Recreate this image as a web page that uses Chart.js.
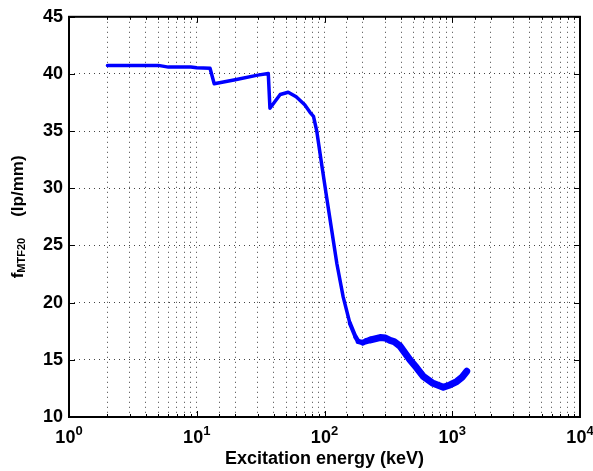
<!DOCTYPE html>
<html><head><meta charset="utf-8">
<script src="https://cdn.jsdelivr.net/npm/chart.js@4/dist/chart.umd.min.js"></script>
<style>html,body{margin:0;padding:0;background:#fff}canvas{display:block}</style>
</head><body>
<canvas id="c" width="593" height="471"></canvas>
<script>
// Data
const energyKeV = [2,5,6,9,10,12.7,13.7,20,30,36.3,37.4,45,52,60,70,77,82,87,95,104,114,125,140,158,175,184,200,214,230,272,300,326,350,390,466,526,593,707,851,959,1084,1200,1298];
const fMTF20 = [40.75,40.75,40.6,40.6,40.55,40.5,39.15,39.5,39.9,40.05,37.0,38.2,38.4,38.0,37.3,36.65,36.3,35.0,32.1,29.2,26.3,23.4,20.5,18.2,17.0,16.6,16.5,16.65,16.75,16.95,16.9,16.7,16.6,16.2,15.0,14.3,13.55,12.95,12.6,12.8,13.1,13.5,14.0];
const xDecades = [1,10,100,1000,10000];
const xDecadeBase = ['10','10','10','10','10'];
const xDecadeExp = ['0','1','2','3','4'];
const xTitle = 'Excitation energy (keV)';
const yTitleMain = 'f';
const yTitleSub = 'MTF20';
const yTitleRest = '(lp/mm)';

const FONT = '"Liberation Sans", Arial, Helvetica, sans-serif';

const decor = {
  id: 'decor',
  afterDraw(chart) {
    const ctx = chart.ctx, a = chart.chartArea;
    const xs = chart.scales.x, ys = chart.scales.y;
    ctx.save();
    ctx.strokeStyle = '#000';
    // inward tick marks
    ctx.lineWidth = 1;
    ctx.beginPath();
    xs.ticks.forEach(t => {
      const px = Math.round(xs.getPixelForValue(t.value)) + 0.5;
      const major = xDecades.includes(t.value);
      const L = major ? 6 : 3;
      ctx.moveTo(px, a.bottom); ctx.lineTo(px, a.bottom - L);
      ctx.moveTo(px, a.top); ctx.lineTo(px, a.top + L);
    });
    ys.ticks.forEach(t => {
      const py = Math.round(ys.getPixelForValue(t.value)) + 0.5;
      ctx.moveTo(a.left, py); ctx.lineTo(a.left + 6, py);
      ctx.moveTo(a.right, py); ctx.lineTo(a.right - 6, py);
    });
    ctx.stroke();
    // box
    ctx.lineWidth = 2;
    ctx.strokeRect(a.left, a.top, a.right - a.left, a.bottom - a.top);
    // x tick labels 10^n
    ctx.fillStyle = '#000';
    ctx.textBaseline = 'alphabetic';
    xDecades.forEach((v, i) => {
      const px = xs.getPixelForValue(v);
      ctx.font = 'bold 18px ' + FONT;
      const wb = ctx.measureText(xDecadeBase[i]).width;
      ctx.font = 'bold 13px ' + FONT;
      const we = ctx.measureText(xDecadeExp[i]).width;
      const x0 = px - (wb + we) / 2;
      ctx.font = 'bold 18px ' + FONT;
      ctx.textAlign = 'left';
      ctx.fillText(xDecadeBase[i], x0, 443);
      ctx.font = 'bold 13px ' + FONT;
      ctx.fillText(xDecadeExp[i], x0 + wb, 435);
    });
    // x title
    ctx.font = 'bold 18px ' + FONT;
    ctx.textAlign = 'center';
    ctx.fillText(xTitle, (a.left + a.right) / 2, 464);
    // y title (rotated)
    ctx.translate(23, (a.top + a.bottom) / 2);
    ctx.rotate(-Math.PI / 2);
    ctx.textAlign = 'left';
    const gap = 21;
    ctx.font = 'bold 17px ' + FONT;
    const w1 = ctx.measureText(yTitleMain).width;
    const w3 = ctx.measureText(yTitleRest).width;
    ctx.font = 'bold 11px ' + FONT;
    const w2 = ctx.measureText(yTitleSub).width;
    let x = -(w1 + w2 + gap + w3) / 2;
    ctx.font = 'bold 17px ' + FONT;
    ctx.fillText(yTitleMain, x, 0); x += w1;
    ctx.font = 'bold 11px ' + FONT;
    ctx.fillText(yTitleSub, x, 2); x += w2 + gap;
    ctx.font = 'bold 17px ' + FONT;
    ctx.fillText(yTitleRest, x, 0);
    ctx.restore();
  }
};

new Chart(document.getElementById('c'), {
  type: 'line',
  data: {
    datasets: [{
      data: energyKeV.map((e, i) => ({x: e, y: fMTF20[i]})),
      borderColor: '#0000ff',
      borderWidth: 3,
      pointRadius: 0,
      fill: false,
      tension: 0,
      borderCapStyle: 'round',
      borderJoinStyle: 'round',
      segment: {
        borderWidth: c => {
          const lx = Math.log10(c.p1.parsed.x);
          const f = Math.max(0, Math.min(1, (lx - 2.2) / 0.2));
          return 3.5 + f * 3.5;
        }
      }
    }]
  },
  options: {
    responsive: false,
    animation: false,
    events: [],
    layout: {padding: {top: 15, right: 13, left: 0, bottom: 0}},
    plugins: {legend: {display: false}, tooltip: {enabled: false}},
    scales: {
      x: {
        type: 'logarithmic', min: 1, max: 10000,
        afterFit: s => { s.height = 54; },
        ticks: {display: false, autoSkip: false},
        grid: {color: '#444', lineWidth: 1, drawTicks: false},
        border: {display: false, dash: [1, 4]}
      },
      y: {
        type: 'linear', min: 10, max: 45,
        afterFit: s => { s.width = 69; },
        ticks: {stepSize: 5, padding: 6, color: '#000', font: {family: FONT, size: 18, weight: 'bold'}},
        grid: {color: '#444', lineWidth: 1, drawTicks: false},
        border: {display: false, dash: [1, 4]}
      }
    }
  },
  plugins: [decor]
});
</script>
</body></html>
